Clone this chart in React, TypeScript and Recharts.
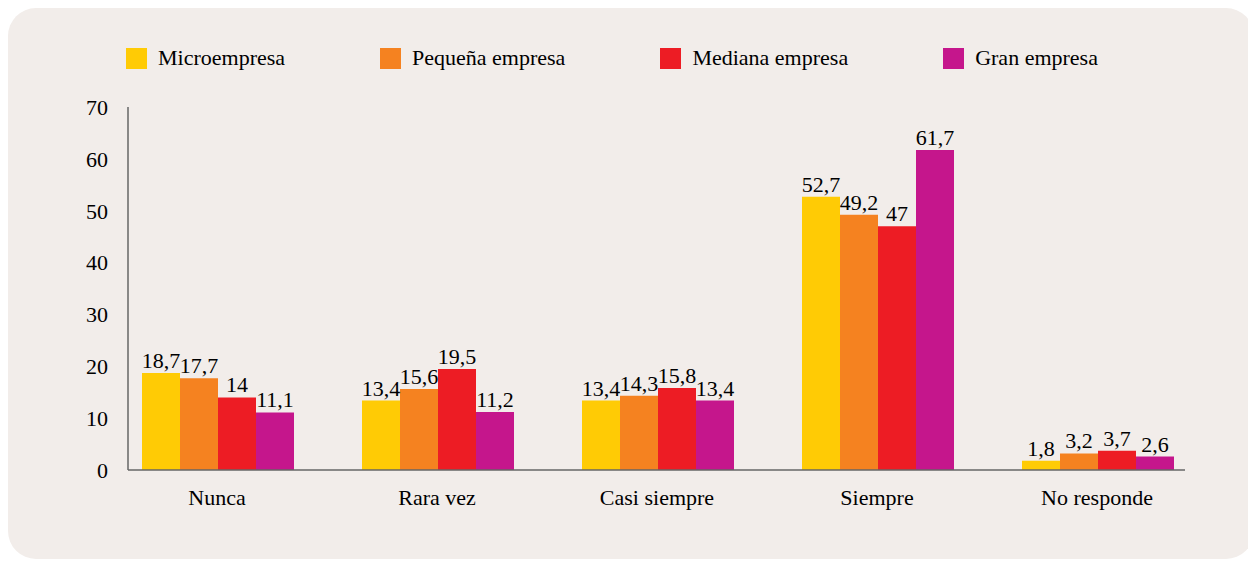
import React from "react";
import { BarChart, Bar, XAxis, YAxis, LabelList } from "recharts";

const categories = ["Nunca", "Rara vez", "Casi siempre", "Siempre", "No responde"];
const micro = [18.7, 13.4, 13.4, 52.7, 1.8];
const pequena = [17.7, 15.6, 14.3, 49.2, 3.2];
const mediana = [14, 19.5, 15.8, 47, 3.7];
const gran = [11.1, 11.2, 13.4, 61.7, 2.6];
const yTicks = [0, 10, 20, 30, 40, 50, 60, 70];

const series = [
  { key: "micro", name: "Microempresa", color: "#FFCB05", values: micro },
  { key: "pequena", name: "Pequeña empresa", color: "#F58220", values: pequena },
  { key: "mediana", name: "Mediana empresa", color: "#ED1C24", values: mediana },
  { key: "gran", name: "Gran empresa", color: "#C5168C", values: gran },
];

const data = categories.map((name, i) => {
  const row: any = { name };
  series.forEach((s) => (row[s.key] = s.values[i]));
  return row;
});

const font = '"Liberation Serif", "Times New Roman", serif';
const fmt = (v: any) => String(v).replace(".", ",");

const App = () => {
  return (
    <div
      style={{
        position: "relative",
        width: 1246,
        height: 551,
        background: "#F2EDEA",
        borderRadius: 28,
        fontFamily: font,
      }}
    >
      <div
        style={{
          position: "absolute",
          left: 118,
          top: 37,
          display: "flex",
          gap: 95,
          fontSize: 22,
          color: "#000",
        }}
      >
        {series.map((s) => (
          <div key={s.key} style={{ display: "flex", alignItems: "center" }}>
            <span style={{ width: 21, height: 21, background: s.color, marginRight: 11 }} />
            <span>{s.name}</span>
          </div>
        ))}
      </div>
      <BarChart
        width={1246}
        height={551}
        data={data}
        margin={{ top: 99, right: 69, bottom: 49, left: 60 }}
        barCategoryGap={35}
        barGap={0}
      >
        <XAxis
          dataKey="name"
          height={40}
          padding={{ left: -21, right: -22 } as any}
          tickLine={false}
          tickMargin={13}
          axisLine={{ stroke: "#666", strokeWidth: 1.5 }}
          tick={{ fill: "#000", fontSize: 22, fontFamily: font }}
        />
        <YAxis
          width={60}
          domain={[0, 70]}
          ticks={yTicks}
          tickLine={false}
          tickMargin={14}
          axisLine={{ stroke: "#666", strokeWidth: 1.5 }}
          tick={{ fill: "#000", fontSize: 22, fontFamily: font }}
        />
        {series.map((s) => (
          <Bar key={s.key} dataKey={s.key} name={s.name} fill={s.color} isAnimationActive={false}>
            <LabelList
              dataKey={s.key}
              position="top"
              offset={5}
              formatter={fmt}
              style={{ fill: "#000", fontSize: 22, fontFamily: font }}
            />
          </Bar>
        ))}
      </BarChart>
    </div>
  );
};

export default App;
